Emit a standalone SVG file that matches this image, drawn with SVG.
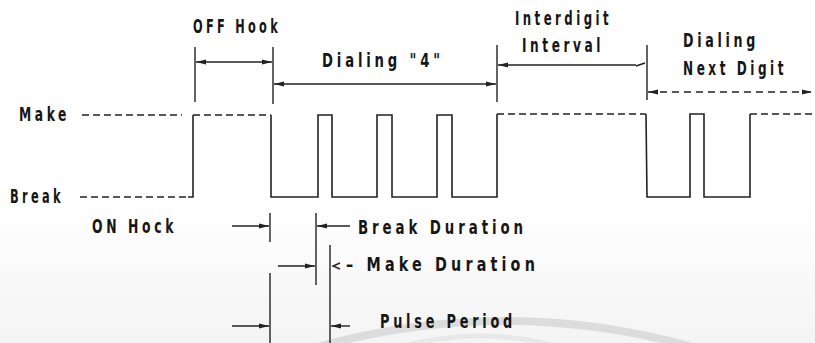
<svg xmlns="http://www.w3.org/2000/svg" width="815" height="343" viewBox="0 0 815 343">
<defs>
<linearGradient id="bg" x1="0" y1="0" x2="0" y2="1">
<stop offset="0" stop-color="#ffffff"/>
<stop offset="1" stop-color="#f4f4f4"/>
</linearGradient>
<marker id="ah" viewBox="0 0 10 6" refX="10" refY="3" markerWidth="10" markerHeight="6" markerUnits="userSpaceOnUse" orient="auto-start-reverse">
<path d="M0 0.5 L10 3 L0 5.5 Z" fill="#222"/>
</marker>
</defs>
<style>
.t{font-family:"DejaVu Sans Condensed","Liberation Sans",sans-serif;font-weight:bold;font-size:19px;letter-spacing:5px;fill:#161616}
.s{fill:none;stroke:#222;stroke-width:1.6}
.d{fill:none;stroke:#222;stroke-width:1.6;stroke-dasharray:7 4}
.a{fill:none;stroke:#222;stroke-width:1.4}
</style>
<rect x="0" y="0" width="815" height="343" fill="#fff"/>
<rect x="0" y="205" width="815" height="138" fill="url(#bg)"/>
<path d="M300 352 Q 505 290 710 352" fill="none" stroke="#dcdcdc" stroke-width="8"/>
<path d="M390 350 Q 480 322 570 350" fill="none" stroke="#e8e8e8" stroke-width="5"/>

<g id="waveform">
<line class="d" x1="82" y1="115" x2="182" y2="115"/>
<line class="d" x1="80" y1="197" x2="188" y2="197"/>
<path class="s" d="M188 197 L193 197 L193 115"/>
<line class="d" x1="193" y1="115" x2="271" y2="115"/>
<path class="s" d="M271 115 L271 197 L318 197 L318 115 L332 115 L332 197 L377 197 L377 115 L392 115 L392 197 L437 197 L437 115 L452 115 L452 197 L497 197 L497 114"/>
<line class="d" x1="497" y1="114" x2="646" y2="114"/>
<path class="s" d="M646 114 L647 197 L690 197 L690 114 L704 114 L704 197 L750 197 L750 114"/>
<line class="d" x1="750" y1="114" x2="815" y2="114"/>
</g>

<g id="connectors">
<line class="a" x1="195" y1="47" x2="195" y2="102"/>
<line class="a" x1="273" y1="47" x2="273" y2="104"/>
<line class="a" x1="497" y1="45" x2="497" y2="102"/>
<line class="a" x1="647" y1="45" x2="647" y2="100"/>
<line class="a" x1="196" y1="62" x2="272" y2="62" marker-start="url(#ah)" marker-end="url(#ah)"/>
<line class="a" x1="274" y1="84" x2="496" y2="84" marker-start="url(#ah)" marker-end="url(#ah)"/>
<line class="a" x1="498" y1="65" x2="636" y2="65" marker-start="url(#ah)"/>
<path class="a" d="M636 66 L645 63"/>
<line class="a" x1="648" y1="92" x2="812" y2="92" stroke-dasharray="7 5" marker-start="url(#ah)" marker-end="url(#ah)"/>

<line class="a" x1="270" y1="213" x2="270" y2="242"/>
<line class="a" x1="232" y1="226" x2="269" y2="226" marker-end="url(#ah)"/>
<line class="a" x1="316" y1="213" x2="316" y2="285"/>
<line class="a" x1="350" y1="226" x2="317" y2="226" marker-end="url(#ah)"/>
<line class="a" x1="278" y1="266" x2="315" y2="266" marker-end="url(#ah)"/>
<line class="a" x1="330" y1="245" x2="330" y2="343"/>
<path class="a" d="M340 263 L333 266 L340 269"/>
<line class="a" x1="270" y1="273" x2="270" y2="343"/>
<line class="a" x1="232" y1="326" x2="269" y2="326" marker-end="url(#ah)"/>
<line class="a" x1="350" y1="326" x2="331" y2="326" marker-end="url(#ah)"/>
</g>

<g id="label-offhook"><text class="t" x="193" y="33" textLength="88" lengthAdjust="spacingAndGlyphs">OFF Hook</text></g>
<g id="label-dialing4"><text class="t" x="322" y="67" textLength="122" lengthAdjust="spacingAndGlyphs">Dialing "4"</text></g>
<g id="label-interdigit"><text class="t" x="515" y="25" textLength="97" lengthAdjust="spacingAndGlyphs">Interdigit</text>
<text class="t" x="522" y="52" textLength="82" lengthAdjust="spacingAndGlyphs">Interval</text></g>
<g id="label-next"><text class="t" x="683" y="47" textLength="76" lengthAdjust="spacingAndGlyphs">Dialing</text>
<text class="t" x="683" y="75" textLength="104" lengthAdjust="spacingAndGlyphs">Next Digit</text></g>
<g id="label-make"><text class="t" x="19" y="121" textLength="51" lengthAdjust="spacingAndGlyphs">Make</text></g>
<g id="label-break"><text class="t" x="10" y="203" textLength="54" lengthAdjust="spacingAndGlyphs">Break</text></g>
<g id="label-onhook"><text class="t" x="92" y="233" textLength="85" lengthAdjust="spacingAndGlyphs">ON Hock</text></g>
<g id="label-breakdur"><text class="t" x="358" y="234" textLength="169" lengthAdjust="spacingAndGlyphs">Break Duration</text></g>
<g id="label-makedur"><text class="t" x="346" y="271" textLength="193" lengthAdjust="spacingAndGlyphs">– Make Duration</text></g>
<g id="label-pulse"><text class="t" x="380" y="328" textLength="136" lengthAdjust="spacingAndGlyphs">Pulse Period</text></g>
</svg>
